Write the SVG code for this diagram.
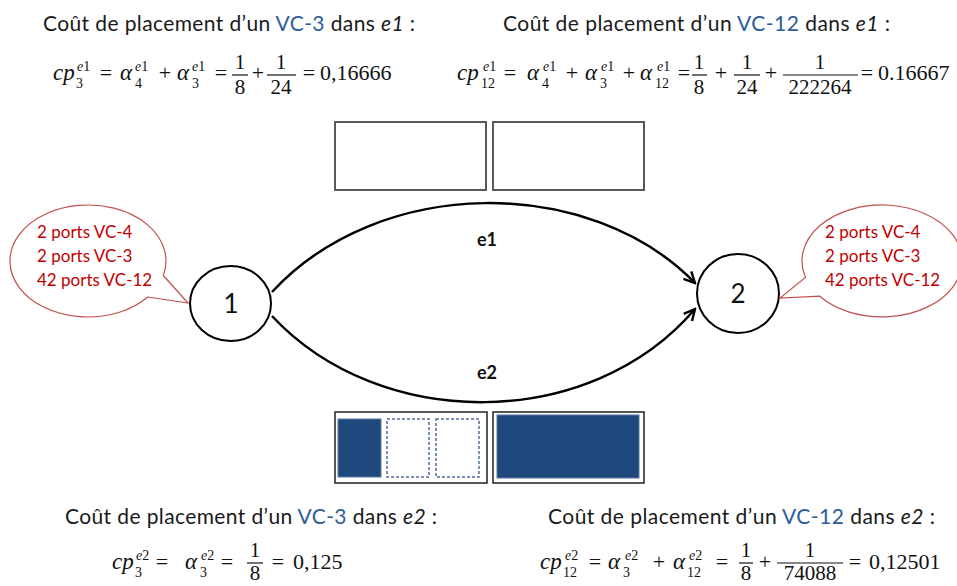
<svg xmlns="http://www.w3.org/2000/svg" width="957" height="586" viewBox="0 0 957 586">
<style>
.h{font-family:Lato,"Liberation Sans",sans-serif;font-size:21px;fill:#1a1a1a}
.b{fill:#2E5C9A}
.i{font-style:italic}
.m{font-family:"Liberation Serif","DejaVu Serif",serif;font-size:22px;fill:#111}
.f{font-family:"Liberation Serif","DejaVu Serif",serif;font-size:21px;fill:#111;text-anchor:middle}
.mi{font-family:"Liberation Serif","DejaVu Serif",serif;font-size:23px;font-style:italic;fill:#111}
.s{font-family:"Liberation Serif","DejaVu Serif",serif;font-size:14px;fill:#111}
.c{text-anchor:middle}
.bar{stroke:#111;stroke-width:1.2}
.node{fill:#fff;stroke:#000;stroke-width:2}
.nl{font-family:Lato,"Liberation Sans",sans-serif;font-size:26px;fill:#111;text-anchor:middle}
.el{font-family:Lato,"Liberation Sans",sans-serif;font-size:18px;font-weight:bold;fill:#111;text-anchor:middle}
.co{fill:#fff;stroke:#C0504D;stroke-width:1.2}
.ct{font-family:Lato,"Liberation Sans",sans-serif;font-size:17px;fill:#C00000}
.edge{fill:none;stroke:#000;stroke-width:2.5;marker-end:url(#arr)}
.box{fill:#fff;stroke:#595959;stroke-width:2}
.box2{fill:#fff;stroke:#222;stroke-width:1.5}
.fill{fill:#1F497D;stroke:#5a7aa0;stroke-width:1}
.dash{fill:#fff;stroke:#4F6E96;stroke-width:1.5;stroke-dasharray:3,2}
</style>
<defs>
<marker id="arr" markerUnits="userSpaceOnUse" viewBox="0 0 14 14" refX="12.5" refY="7" markerWidth="14" markerHeight="14" orient="auto">
<path d="M1.5,1.5 L12.5,7 L1.5,12.5" fill="none" stroke="#000" stroke-width="2.4"/>
</marker>
</defs>

<!-- Headings -->
<g id="heading-e1-vc3">
<text class="h" x="43" y="31" textLength="372">Coût de placement d’un <tspan class="b">VC-3</tspan> dans <tspan class="i">e1</tspan> :</text>
</g>
<g id="heading-e1-vc12">
<text class="h" x="503" y="31" textLength="387">Coût de placement d’un <tspan class="b">VC-12</tspan> dans <tspan class="i">e1</tspan> :</text>
</g>
<g id="heading-e2-vc3">
<text class="h" x="65" y="524" textLength="372">Coût de placement d’un <tspan class="b">VC-3</tspan> dans <tspan class="i">e2</tspan> :</text>
</g>
<g id="heading-e2-vc12">
<text class="h" x="548" y="524" textLength="387">Coût de placement d’un <tspan class="b">VC-12</tspan> dans <tspan class="i">e2</tspan> :</text>
</g>

<!-- Formula 1 -->
<g id="formula-1">
<text class="mi" x="53" y="80">cp</text>
<text class="s" x="76" y="88">3</text>
<text class="s" x="77" y="71"><tspan class="i">e</tspan>1</text>
<text class="m c" x="106" y="80">=</text>
<text class="mi" x="120" y="80">α</text>
<text class="s" x="135" y="88">4</text>
<text class="s" x="135" y="71"><tspan class="i">e</tspan>1</text>
<text class="m c" x="165" y="80">+</text>
<text class="mi" x="177" y="80">α</text>
<text class="s" x="192" y="88">3</text>
<text class="s" x="192" y="71"><tspan class="i">e</tspan>1</text>
<text class="m c" x="221" y="80">=</text>
<text class="f" x="240" y="69">1</text><line class="bar" x1="232" y1="75" x2="248" y2="75"/><text class="f" x="240" y="94">8</text>
<text class="m c" x="258" y="80">+</text>
<text class="f" x="281" y="69">1</text><line class="bar" x1="267" y1="75" x2="296" y2="75"/><text class="f" x="281" y="94">24</text>
<text class="m c" x="309" y="80">=</text>
<text class="m" x="320" y="80">0,16666</text>
</g>

<!-- Formula 2 -->
<g id="formula-2">
<text class="mi" x="457" y="80">cp</text>
<text class="s" x="481" y="88">12</text>
<text class="s" x="483" y="71"><tspan class="i">e</tspan>1</text>
<text class="m c" x="510" y="80">=</text>
<text class="mi" x="527" y="80">α</text>
<text class="s" x="542" y="88">4</text>
<text class="s" x="543" y="71"><tspan class="i">e</tspan>1</text>
<text class="m c" x="572" y="80">+</text>
<text class="mi" x="585" y="80">α</text>
<text class="s" x="600" y="88">3</text>
<text class="s" x="601" y="71"><tspan class="i">e</tspan>1</text>
<text class="m c" x="629" y="80">+</text>
<text class="mi" x="640" y="80">α</text>
<text class="s" x="655" y="88">12</text>
<text class="s" x="657" y="71"><tspan class="i">e</tspan>1</text>
<text class="m c" x="684" y="80">=</text>
<text class="f" x="699" y="69">1</text><line class="bar" x1="692" y1="75" x2="707" y2="75"/><text class="f" x="699" y="94">8</text>
<text class="m c" x="721" y="80">+</text>
<text class="f" x="747" y="69">1</text><line class="bar" x1="734" y1="75" x2="760" y2="75"/><text class="f" x="747" y="94">24</text>
<text class="m c" x="771" y="80">+</text>
<text class="f" x="820" y="69">1</text><line class="bar" x1="783" y1="75" x2="858" y2="75"/><text class="f" x="820" y="94">222264</text>
<text class="m c" x="867" y="80">=</text>
<text class="m" x="878" y="80">0.16667</text>
</g>

<!-- Formula 3 -->
<g id="formula-3">
<text class="mi" x="112" y="569">cp</text>
<text class="s" x="135" y="577">3</text>
<text class="s" x="136" y="560"><tspan class="i">e</tspan>2</text>
<text class="m c" x="162" y="569">=</text>
<text class="mi" x="185" y="569">α</text>
<text class="s" x="200" y="577">3</text>
<text class="s" x="201" y="560"><tspan class="i">e</tspan>2</text>
<text class="m c" x="227" y="569">=</text>
<text class="f" x="255" y="557">1</text><line class="bar" x1="247" y1="563" x2="263" y2="563"/><text class="f" x="255" y="580">8</text>
<text class="m c" x="278" y="569">=</text>
<text class="m" x="293" y="569">0,125</text>
</g>

<!-- Formula 4 -->
<g id="formula-4">
<text class="mi" x="540" y="569">cp</text>
<text class="s" x="563" y="577">12</text>
<text class="s" x="565" y="560"><tspan class="i">e</tspan>2</text>
<text class="m c" x="595" y="569">=</text>
<text class="mi" x="608" y="569">α</text>
<text class="s" x="623" y="577">3</text>
<text class="s" x="625" y="560"><tspan class="i">e</tspan>2</text>
<text class="m c" x="659" y="569">+</text>
<text class="mi" x="673" y="569">α</text>
<text class="s" x="687" y="577">12</text>
<text class="s" x="689" y="560"><tspan class="i">e</tspan>2</text>
<text class="m c" x="722" y="569">=</text>
<text class="f" x="746" y="557">1</text><line class="bar" x1="739" y1="563" x2="753" y2="563"/><text class="f" x="746" y="580">8</text>
<text class="m c" x="765" y="569">+</text>
<text class="f" x="810" y="557">1</text><line class="bar" x1="777" y1="563" x2="843" y2="563"/><text class="f" x="810" y="580">74088</text>
<text class="m c" x="855" y="569">=</text>
<text class="m" x="869" y="569">0,12501</text>
</g>

<!-- Capacity boxes e1 -->
<g id="boxes-e1">
<rect class="box" x="335" y="122" width="151" height="68"/>
<rect class="box" x="493" y="122" width="151" height="68"/>
</g>

<!-- Capacity boxes e2 -->
<g id="boxes-e2">
<rect class="box2" x="335" y="412" width="152" height="71"/>
<rect class="fill" x="338" y="419" width="43" height="58"/>
<rect class="dash" x="387" y="419" width="42" height="58"/>
<rect class="dash" x="436" y="419" width="43" height="58"/>
<rect class="box2" x="493" y="412" width="151" height="71"/>
<rect class="fill" x="497" y="415" width="142" height="63"/>
</g>

<!-- Connectors -->
<g id="connectors">
<path id="edge-e1" class="edge" d="M272,292 C380,175 590,175 695,283"/>
<path id="edge-e2" class="edge" d="M272,316 C380,432 590,432 695,309"/>
<text class="el" x="487" y="246">e1</text>
<text class="el" x="487" y="379">e2</text>
</g>

<!-- Nodes -->
<g id="node-1">
<ellipse class="node" cx="230.5" cy="303.5" rx="40.5" ry="37.5"/>
<text class="nl" x="231" y="313">1</text>
</g>
<g id="node-2">
<ellipse class="node" cx="738" cy="293.5" rx="41" ry="39.5"/>
<text class="nl" x="738" y="303">2</text>
</g>

<!-- Callouts -->
<g id="callout-1">
<path class="co" d="M147.7,297 L188,303 L163.3,275.5 A78 56 0 1 0 147.7,297 Z"/>
<text class="ct" x="37" y="238">2 ports VC-4</text>
<text class="ct" x="37" y="262">2 ports VC-3</text>
<text class="ct" x="37" y="286">42 ports VC-12</text>
</g>
<g id="callout-2">
<path class="co" d="M819.8,296.2 L780,298 L805.5,277.4 A80 56 0 1 1 819.8,296.2 Z"/>
<text class="ct" x="825" y="238">2 ports VC-4</text>
<text class="ct" x="825" y="262">2 ports VC-3</text>
<text class="ct" x="825" y="286">42 ports VC-12</text>
</g>
</svg>
